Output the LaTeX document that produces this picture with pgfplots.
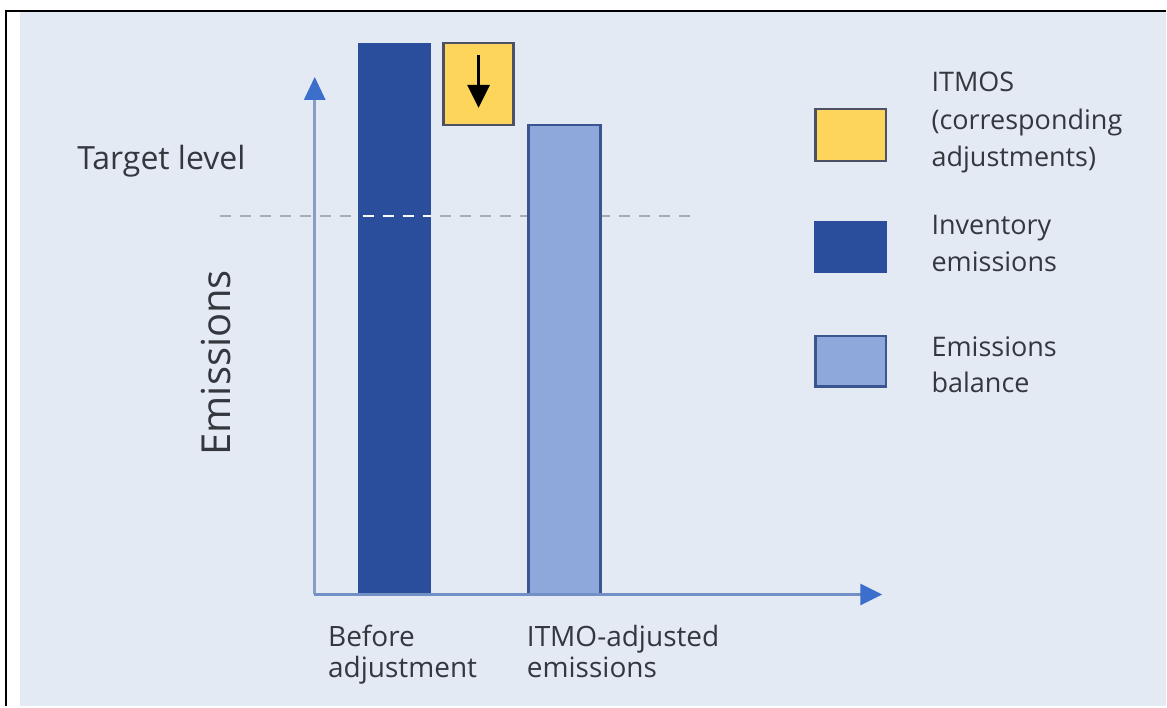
\documentclass[border=0pt]{standalone}
\usepackage{pgfplots}
\pgfplotsset{compat=1.18}
\usepackage{fontspec}
\setmainfont{Open Sans}
\usetikzlibrary{arrows.meta}
\definecolor{bgc}{HTML}{E3EAF3}
\definecolor{darkbar}{HTML}{2B4E9C}
\definecolor{lightbar}{HTML}{8EA8DC}
\definecolor{lightedge}{HTML}{3B5590}
\definecolor{yel}{HTML}{FDD55A}
\definecolor{yeledge}{HTML}{4C5166}
\definecolor{axln}{HTML}{8A9DC4}
\definecolor{axhead}{HTML}{3C6ECB}
\definecolor{dashc}{HTML}{A5ADB5}
\definecolor{txt}{HTML}{34383E}
\begin{document}
\begin{tikzpicture}
\begin{axis}[
  width=583.5pt, height=353.5pt, scale only axis,
  xmin=-315, xmax=852, ymin=-112, ymax=595,
  hide axis, clip=false,
]
% canvas
\fill[white] (axis cs:-315,-112) rectangle (axis cs:852,595);
\fill[bgc] (axis cs:-295,-112) rectangle (axis cs:852,583);
\draw[black, line width=1pt] (axis cs:-309,-112) -- (axis cs:-309,583.5) -- (axis cs:852,583.5);
% target dashed line
\draw[dashc, line width=1pt, dash pattern=on 5.5pt off 4.5pt] (axis cs:-95,379) -- (axis cs:380,379);
% bars
\addplot[ybar, bar width=72, bar shift=0pt, fill=darkbar, draw=darkbar] coordinates {(80,552)};
\addplot[ybar, bar width=72, bar shift=0pt, fill=lightbar, draw=lightedge, line width=1.2pt] coordinates {(250,470)};
% ITMO adjustment box
\addplot[fill=yel, draw=yeledge, line width=1.2pt] coordinates {(129,470) (199,470) (199,552) (129,552)} -- cycle;
\draw[black, line width=1.5pt, -{Triangle[length=11.5pt,width=11pt]}] (axis cs:164,540) -- (axis cs:164,487);
% dashed line over dark bar
\draw[white!80!bgc, line width=1.2pt, dash pattern=on 5.5pt off 4.5pt] (axis cs:48,379) -- (axis cs:116,379);
% axes
\draw[axln, line width=1.5pt, -{Triangle[length=11.5pt,width=10.5pt,color=axhead]}] (axis cs:0,0) -- (axis cs:0,518);
\draw[axln!70!axhead, line width=1.5pt, -{Triangle[length=11pt,width=10.5pt,color=axhead]}] (axis cs:-1,0) -- (axis cs:568,0);
% texts
\node[txt, anchor=base west, font=\fontsize{16}{19}\selectfont, inner sep=0pt] at (axis cs:-238,425) {Target level};
\node[txt, anchor=base, rotate=90, font=\fontsize{20}{24}\selectfont, inner sep=0pt] at (axis cs:-84,232) {Emissions};
\node[txt, anchor=base west, font=\fontsize{14}{17}\selectfont, inner sep=0pt] at (axis cs:13,-52) {Before};
\node[txt, anchor=base west, font=\fontsize{14}{17}\selectfont, inner sep=0pt] at (axis cs:13,-83) {adjustment};
\node[txt, anchor=base west, font=\fontsize{14}{17}\selectfont, inner sep=0pt] at (axis cs:212,-52) {ITMO-adjusted};
\node[txt, anchor=base west, font=\fontsize{14}{17}\selectfont, inner sep=0pt] at (axis cs:212,-83) {emissions};
% legend
\filldraw[fill=yel, draw=yeledge, line width=1.2pt] (axis cs:501,434) rectangle (axis cs:572,486);
\filldraw[fill=darkbar, draw=darkbar] (axis cs:500,322) rectangle (axis cs:572,373);
\filldraw[fill=lightbar, draw=lightedge, line width=1.2pt] (axis cs:501,208) rectangle (axis cs:572,259);
\begin{scope}[every node/.style={txt, anchor=base west, font=\fontsize{13.5}{16}\selectfont, inner sep=0pt}]
\node at (axis cs:617,503) {ITMOS};
\node at (axis cs:617,465) {(corresponding};
\node at (axis cs:617,428) {adjustments)};
\node at (axis cs:617,360) {Inventory};
\node at (axis cs:617,323) {emissions};
\node at (axis cs:617,238) {Emissions};
\node at (axis cs:617,202) {balance};
\end{scope}
\end{axis}
\end{tikzpicture}
\end{document}
